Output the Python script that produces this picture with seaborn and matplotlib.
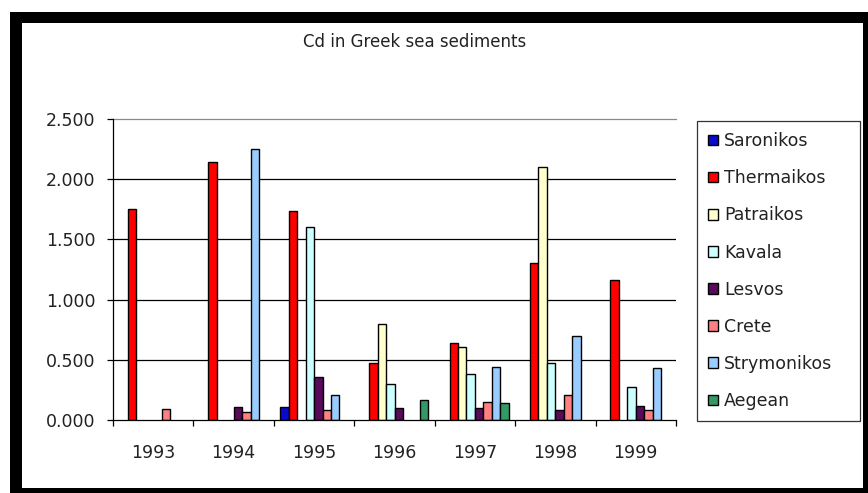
import numpy as np
import pandas as pd
import matplotlib
matplotlib.use("Agg")
import matplotlib.pyplot as plt
from matplotlib.patches import Rectangle
from matplotlib.ticker import FormatStrFormatter, FixedLocator
import seaborn as sns

# Cd concentrations per year and sampling area (NaN = no measurement)
years = ["1993", "1994", "1995", "1996", "1997", "1998", "1999"]
sites = ["Saronikos", "Thermaikos", "Patraikos", "Kavala", "Lesvos",
         "Crete", "Strymonikos", "Aegean"]

saronikos   = [np.nan, np.nan, 0.11, np.nan, np.nan, np.nan, np.nan]
thermaikos  = [1.75, 2.14, 1.74, 0.47, 0.64, 1.30, 1.16]
patraikos   = [np.nan, np.nan, np.nan, 0.80, 0.61, 2.10, np.nan]
kavala      = [np.nan, np.nan, 1.60, 0.30, 0.38, 0.47, 0.27]
lesvos      = [np.nan, 0.11, 0.36, 0.10, 0.10, 0.08, 0.12]
crete       = [0.09, 0.07, 0.08, np.nan, 0.15, 0.21, 0.08]
strymonikos = [np.nan, 2.25, 0.21, np.nan, 0.44, 0.70, 0.43]
aegean      = [np.nan, np.nan, np.nan, 0.17, 0.14, np.nan, np.nan]

series = [saronikos, thermaikos, patraikos, kavala, lesvos, crete,
          strymonikos, aegean]
colors = ["#0A0ACC", "#FF0000", "#FFFFCC", "#CCFFFF", "#5A0A5A",
          "#FF8080", "#99CCFF", "#339966"]

rows = []
for site, vals in zip(sites, series):
    for yr, v in zip(years, vals):
        rows.append({"year": yr, "site": site, "value": v})
df = pd.DataFrame(rows).dropna()

W, H = 868, 493
fig = plt.figure(figsize=(W / 100, H / 100), dpi=100)
fig.patch.set_facecolor("white")

# outer black frame with white chart area (drawn beneath the axes)
fig.patches.append(Rectangle((10 / W, 0), (W - 10) / W, (H - 12) / H,
                             transform=fig.transFigure, facecolor="black",
                             edgecolor="none", zorder=-20))
fig.patches.append(Rectangle((22 / W, 5 / H), (863 - 22) / W, (488 - 23) / H,
                             transform=fig.transFigure, facecolor="white",
                             edgecolor="none", zorder=-10))

left, right, top, bottom = 113, 676, 119, 420
ax = fig.add_axes([left / W, (H - bottom) / H, (right - left) / W,
                   (bottom - top) / H])
ax.set_facecolor("none")
ax.set_zorder(1)

sns.barplot(data=df, x="year", y="value", hue="site", order=years,
            hue_order=sites, palette=colors, saturation=1, width=8 / 9.5,
            edgecolor="black", linewidth=1.0, errorbar=None, ax=ax, zorder=3)

ax.set_xlim(-0.5, len(years) - 0.5)
ax.set_ylim(0, 2.5)
ax.set_xlabel("")
ax.set_ylabel("")

# gridlines
for yv in [0.5, 1.0, 1.5, 2.0]:
    ax.axhline(yv, color="black", lw=0.9, zorder=1)
ax.axhline(2.5, color="#8a8a8a", lw=0.9, zorder=1, clip_on=False)

for side in ["top", "right"]:
    ax.spines[side].set_visible(False)
for side in ["left", "bottom"]:
    ax.spines[side].set_color("black")
    ax.spines[side].set_linewidth(0.9)
    ax.spines[side].set_zorder(4)

ax.yaxis.set_major_locator(FixedLocator([0, 0.5, 1.0, 1.5, 2.0, 2.5]))
ax.yaxis.set_major_formatter(FormatStrFormatter("%.3f"))
ax.tick_params(axis="y", direction="out", length=4.5, width=0.9,
               color="black", pad=8, labelsize=12.5, labelcolor="#222222")

ax.set_xticks(range(len(years)))
ax.set_xticklabels(years)
ax.tick_params(axis="x", which="major", length=0, pad=17, labelsize=12.5,
               labelcolor="#222222")
ax.set_xticks(np.arange(-0.5, len(years)), minor=True)
ax.tick_params(axis="x", which="minor", direction="out", length=4.5,
               width=0.9, color="black")

fig.text(415 / W, 1 - 42 / H, "Cd in Greek sea sediments", ha="center",
         va="center", fontsize=12, color="#222222")

handles, labels = ax.get_legend_handles_labels()
ax.get_legend().remove()
leg = fig.legend(handles, labels, loc="upper left",
                 bbox_to_anchor=(697 / W, 1 - 121 / H, (860 - 697) / W, 0),
                 bbox_transform=fig.transFigure, mode="expand", frameon=True,
                 fancybox=False, edgecolor="black", fontsize=12.5,
                 handlelength=0.55, handleheight=0.55, handletextpad=0.35,
                 labelspacing=1.1, borderpad=0.65, borderaxespad=0)
leg.get_frame().set_linewidth(0.9)
for t in leg.get_texts():
    t.set_color("#222222")

fig.savefig("out.png", dpi=100)
